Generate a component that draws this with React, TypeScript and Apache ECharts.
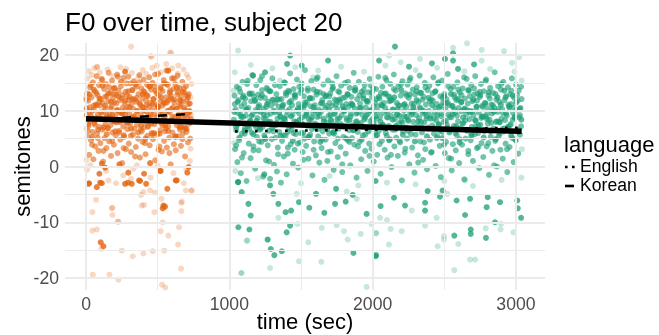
import React, { useEffect, useRef } from "react";
import * as echarts from "echarts";

// ---------- data ----------
const xTicks = [0, 1000, 2000, 3000];
const yTicks = [-20, -10, 0, 10, 20];
const xMinor = [500, 1500, 2500];
const yMinor = [-15, -5, 5, 15];

// orange (first block, 0-735 s)
const orangeMain: number[][] = [
[5,9.2],[8,13.1],[12,5.4],[15,11.8],[18,7.3],[22,2.1],[25,10.6],[28,14.2],[31,8.1],[35,4.7],[38,12.4],[41,9.9],[44,6.2],[48,15.1],[51,1.3],[54,10.2],[57,7.8],[61,13.5],[64,3.6],[67,11.1],[70,8.7],[74,16.2],[77,5.9],[80,12.8],[83,9.4],[87,2.8],[90,14.6],[93,7.1],[96,10.9],[100,4.2],[103,12.1],[106,8.5],[109,15.7],[113,6.6],[116,11.4],[119,0.9],[122,9.8],[126,13.9],[129,5.1],[132,10.4],[135,7.6],[139,14.8],[142,3.3],[145,12.6],[148,8.9],[152,6.9],[155,11.7],[158,16.8],[161,4.5],[165,9.6],[168,13.2],[171,7.4],[174,1.9],[178,10.8],[181,15.4],[184,6.1],[187,12.3],[191,8.2],[194,3.9],[197,11.5],[200,14.1],[204,9.1],[207,5.6],[210,12.9],[213,7.9],[217,16.5],[220,2.4],[223,10.1],[226,13.6],[230,6.4],[233,9.7],[236,11.9],[239,4.8],[243,14.4],[246,8.3],[249,12.2],[252,0.6],[256,10.5],[259,7.2],[262,15.9],[265,5.3],[269,11.3],[272,9.3],[275,13.4],[278,3.1],[282,8.6],[285,12.7],[288,6.7],[291,10.7],[295,16.1],[298,4.1],[301,9.5],[304,12.5],[308,7.7],[311,14.9],[314,2.6],[317,11.2],[321,8.8],[324,13.7],[327,5.7],[330,10.3],[334,15.3],[337,6.8],[340,12.0],[343,9.0],[347,3.5],[350,11.6],[353,14.3],[356,7.5],[360,10.0],[363,5.0],[366,13.0],[369,8.4],[373,16.4],[376,1.6],[379,11.0],[382,9.2],[386,14.0],[389,6.3],[392,12.3],[395,4.4],[399,10.6],[402,15.6],[405,7.0],[408,13.3],[412,8.0],[415,2.2],[418,11.8],[421,9.9],[425,14.7],[428,5.5],[431,12.6],[434,7.3],[438,10.8],[441,16.0],[444,3.8],[447,11.4],[451,8.7],[454,13.8],[457,6.0],[460,10.2],[464,15.0],[467,4.9],[470,12.1],[473,9.4],[477,7.6],[480,14.5],[483,1.1],[486,11.1],[490,8.1],[493,13.1],[496,5.8],[499,10.4],[503,16.6],[506,3.0],[509,12.8],[512,9.6],[516,6.5],[519,14.2],[522,11.7],[525,7.8],[529,2.7],[532,10.9],[535,13.5],[538,8.5],[542,15.5],[545,4.6],[548,11.3],[551,9.0],[555,6.9],[558,12.4],[561,17.2],[564,3.4],[568,10.0],[571,14.6],[574,7.2],[577,11.9],[581,5.2],[584,9.7],[587,13.6],[590,0.4],[594,12.2],[597,8.3],[600,15.8],[603,6.1],[607,10.6],[610,13.9],[613,4.0],[616,11.5],[620,8.9],[623,14.8],[626,2.9],[629,10.3],[633,7.4],[636,12.9],[639,16.3],[642,5.4],[646,9.3],[649,11.0],[652,14.1],[655,6.6],[659,10.8],[662,3.7],[665,12.5],[668,8.6],[672,15.2],[675,5.9],[678,11.6],[681,9.5],[685,13.3],[688,7.0],[691,1.8],[694,10.1],[698,14.4],[701,6.2],[704,12.0],[707,8.8],[711,4.3],[714,11.2],[717,13.0],[720,7.7],[724,9.8],[727,5.0]
];
const orangeCore: number[][] = [
[4,10.4],[14,7.6],[24,12.9],[34,9.0],[44,5.3],[54,13.8],[64,8.3],[74,11.0],[84,6.6],[94,12.2],[104,9.7],[114,14.5],[124,7.0],[134,10.9],[144,5.8],[154,13.1],[164,8.8],[174,11.6],[184,9.3],[194,14.0],[204,6.3],[214,10.1],[224,12.6],[234,8.0],[244,15.2],[254,9.5],[264,5.6],[274,11.8],[284,7.9],[294,13.5],[304,10.6],[314,6.8],[324,12.1],[334,8.6],[344,14.7],[354,9.9],[364,6.1],[374,11.4],[384,7.3],[394,13.0],[404,10.0],[414,5.0],[424,12.8],[434,9.1],[444,14.3],[454,7.7],[464,11.2],[474,6.0],[484,13.6],[494,8.9],[504,10.7],[514,5.9],[524,12.4],[534,9.4],[544,14.9],[554,7.4],[564,11.5],[574,6.4],[584,13.2],[594,10.3],[604,8.2],[614,12.0],[624,5.4],[634,14.1],[644,9.0],[654,11.9],[664,7.1],[674,13.4],[684,10.5],[694,6.8],[704,12.7],[714,9.6],[724,11.3],[730,8.0]
];
const orangeExtra: number[][] = [
[2,12.0],[12,6.4],[22,9.8],[32,14.6],[42,3.9],[52,10.9],[62,7.5],[72,13.2],[82,5.1],[92,11.6],[102,8.7],[112,15.5],[122,2.8],[132,12.5],[142,9.2],[152,6.9],[162,14.2],[172,10.4],[182,4.6],[192,13.0],[202,8.0],[212,11.3],[222,16.1],[232,6.1],[242,9.6],[252,12.8],[262,3.3],[272,10.1],[282,14.9],[292,7.8],[302,11.9],[312,5.5],[322,13.7],[332,9.0],[342,1.8],[352,12.3],[362,8.4],[372,15.1],[382,6.6],[392,10.6],[402,13.5],[412,4.2],[422,11.0],[432,7.1],[442,14.4],[452,9.4],[462,5.8],[472,12.1],[482,16.5],[492,8.2],[502,10.8],[512,3.6],[522,13.9],[532,7.4],[542,11.5],[552,6.3],[562,14.8],[572,9.9],[582,2.4],[592,12.7],[602,8.9],[612,15.8],[622,5.3],[632,10.3],[642,13.3],[652,7.0],[662,11.7],[672,4.9],[682,14.0],[692,9.1],[702,6.7],[712,12.4],[722,10.0],[732,8.5]
];
const orangeSolid: number[][] = [
[93,-1.3],[21,-3.0],[75,-3.7],[110,-3.0],[133,-0.2],[233,0.4],[295,-1.1],[272,-3.1],[319,-3.1],[377,-2.6],[405,-1.3],[419,-3.1],[447,0.6],[516,-0.8],[540,-7.0],[551,-7.2],[567,-4.0],[633,-2.5],[707,-1.1],[716,-0.1],[102,-13.6],[121,-14.3],[98,-2.9],[293,-2.9],[370,-2.5],[521,-0.8],[626,-2.5],[535,-7.5],[16,-3.1],[110,0.5],[272,17.0],[574,17.2]
];
const orangeFaint: number[][] = [
[44,-8.2],[70,-6.0],[184,-7.4],[184,-8.7],[226,-9.9],[44,-11.5],[75,-11.3],[107,-14.8],[249,-15.1],[326,-16.1],[400,-15.6],[465,-15.2],[546,-15.1],[47,-19.4],[163,-19.4],[226,-20.3],[530,-21.2],[553,-21.7],[521,-11.6],[535,-10.0],[574,-12.4],[649,-10.9],[642,-14.0],[663,-18.3],[665,-6.5],[665,-8.0],[682,-3.0],[735,-4.3],[696,-4.3],[384,-5.1],[388,-7.0],[405,-6.9],[477,-8.2],[526,-5.8],[400,-4.6],[447,-4.3],[481,-4.7],[314,-2.2],[209,-3.0],[156,-2.5],[354,0.2],[179,-7.5],[221,-9.9],[737,-4.3],[668,-6.3],
[314,21.5],[451,19.8],[593,20.4],[75,17.8],[493,18.1],[644,18.1],[703,16.5],[365,16.1],[621,15.7],[586,20.4],[458,19.7],[79,17.9],
[2,12.5],[3,6.8],[10,15.8],[20,17.1],[40,16.4],[58,17.6],[95,16.9],[150,17.4],[190,16.2],[240,17.8],[280,17.5],[320,16.8],[395,17.3],[420,16.6],[462,17.7],[520,16.9],[560,18.4],[600,17.6],[640,16.7],[680,17.4],[715,15.9],[730,12.4],[733,9.1],[729,3.2],[735,14.8],[3,1.2],[6,-0.6],[30,0.2],[140,-0.8],[260,-1.6],[330,-0.4],[450,-2.0],[500,0.1],[610,-1.2],[700,-0.5],[725,1.0]
];

// green (second block, 1030-3040 s)
const greenMain: number[][] = [
[1032,8.4],[1036,12.7],[1040,3.1],[1044,10.2],[1048,6.5],[1052,14.3],[1056,0.8],[1060,9.6],[1064,11.9],[1068,4.7],[1072,7.8],[1076,13.4],[1080,-1.2],[1084,10.8],[1088,5.9],[1092,15.2],[1096,8.9],[1100,2.4],[1104,11.3],[1108,6.8],[1112,12.2],[1116,9.1],[1120,-2.6],[1124,14.8],[1128,7.2],
[1132,10.5],[1136,4.1],[1140,13.1],[1144,8.2],[1148,1.5],[1152,11.7],[1156,6.1],[1160,16.4],[1164,9.4],[1168,3.6],[1172,12.5],[1176,7.5],[1180,-0.4],[1184,10.1],[1188,14.6],[1192,5.3],[1196,8.7],[1200,12.9],[1204,2.9],[1208,11.0],[1212,6.9],[1216,15.5],[1220,9.8],[1224,4.4],[1228,13.7],
[1232,7.1],[1236,-1.8],[1240,10.4],[1244,5.6],[1248,12.3],[1252,8.5],[1256,1.1],[1260,14.1],[1264,9.2],[1268,3.8],[1272,11.6],[1276,6.4],[1280,13.5],[1284,-2.2],[1288,8.0],[1292,10.9],[1296,4.9],[1300,15.8],[1304,7.4],[1308,12.0],[1312,0.3],[1316,9.7],[1320,11.4],[1324,5.2],[1328,13.0],
[1332,-0.9],[1336,8.6],[1340,2.2],[1344,10.7],[1348,6.2],[1352,14.4],[1356,9.0],[1360,-2.9],[1364,12.1],[1368,4.6],[1372,7.9],[1376,11.1],[1380,1.8],[1384,15.1],[1388,8.3],[1392,5.5],[1396,12.8],[1400,-1.4],[1404,9.9],[1408,3.4],[1412,13.6],[1416,7.0],[1420,10.3],[1424,16.7],[1428,4.0],
[1432,11.8],[1436,6.6],[1440,9.3],[1444,0.5],[1448,13.9],[1452,8.1],[1456,3.0],[1460,12.4],[1464,5.8],[1468,10.0],[1472,15.6],[1476,7.6],[1480,-0.2],[1484,11.2],[1488,9.5],[1492,4.3],[1496,13.2],[1500,6.0],[1504,14.9],[1508,8.8],[1512,2.6],[1516,10.6],[1520,12.6],[1524,5.0],[1528,17.3],
[1532,9.0],[1536,3.7],[1540,11.5],[1544,7.3],[1548,14.0],[1552,1.4],[1556,8.4],[1560,12.2],[1564,5.7],[1568,10.8],[1572,15.3],[1576,6.7],[1580,-1.6],[1584,9.6],[1588,13.8],[1592,4.5],[1596,11.0],[1600,7.7],[1604,2.0],[1608,12.9],[1612,8.9],[1616,16.0],[1620,5.4],[1624,10.2],[1628,0.7],
[1632,13.3],[1636,7.2],[1640,9.8],[1644,3.3],[1648,11.9],[1652,6.3],[1656,14.7],[1660,8.6],[1664,-2.4],[1668,10.5],[1672,4.8],[1676,12.7],[1680,7.9],[1684,1.0],[1688,15.4],[1692,9.1],[1696,5.9],[1700,11.4],[1704,13.1],[1708,2.7],[1712,8.2],[1716,10.9],[1720,6.1],[1724,14.2],[1728,-0.6],
[1732,9.4],[1736,12.0],[1740,4.2],[1744,7.6],[1748,16.2],[1752,10.3],[1756,1.7],[1760,13.5],[1764,6.8],[1768,8.7],[1772,11.6],[1776,3.5],[1780,14.5],[1784,9.2],[1788,-1.0],[1792,12.3],[1796,5.3],[1800,10.1],[1804,7.0],[1808,15.0],[1812,2.3],[1816,11.2],[1820,8.3],[1824,13.0],[1828,4.7],
[1832,10.7],[1836,6.5],[1840,14.1],[1844,0.2],[1848,9.0],[1852,12.5],[1856,5.1],[1860,11.0],[1864,7.4],[1868,16.8],[1872,3.9],[1876,10.4],[1880,13.7],[1884,8.0],[1888,-2.0],[1892,12.1],[1896,6.2],[1900,9.7],[1904,15.2],[1908,4.4],[1912,11.3],[1916,7.8],[1920,1.3],[1924,13.4],[1928,9.3],
[1932,5.6],[1936,12.8],[1940,8.4],[1944,14.6],[1948,2.8],[1952,10.6],[1956,6.9],[1960,11.8],[1964,-0.8],[1968,9.5],[1972,13.3],[1976,4.1],[1980,15.7],[1984,8.1],[1988,10.0],[1992,3.2],[1996,12.4],[2000,7.1],[2004,14.0],[2008,0.9],[2012,9.9],[2016,11.5],[2020,5.5],[2024,13.9],[2028,8.6],
[2032,2.1],[2036,10.8],[2040,16.1],[2044,6.4],[2048,12.2],[2052,8.9],[2056,-1.3],[2060,11.1],[2064,4.6],[2068,14.3],[2072,7.5],[2076,9.6],[2080,13.0],[2084,3.0],[2088,10.5],[2092,6.0],[2096,15.5],[2100,8.8],[2104,1.6],[2108,12.6],[2112,7.3],[2116,11.7],[2120,4.9],[2124,14.8],[2128,9.1],
[2132,-0.1],[2136,12.0],[2140,6.6],[2144,10.2],[2148,16.5],[2152,3.6],[2156,8.5],[2160,13.6],[2164,5.2],[2168,11.4],[2172,9.4],[2176,1.9],[2180,14.4],[2184,7.7],[2188,10.9],[2192,4.3],[2196,12.7],[2200,8.2],[2204,-2.5],[2208,15.3],[2212,6.3],[2216,11.0],[2220,9.0],[2224,2.5],[2228,13.1],
[2232,7.0],[2236,10.7],[2240,5.0],[2244,14.7],[2248,8.4],[2252,12.3],[2256,0.4],[2260,9.8],[2264,15.9],[2268,6.7],[2272,11.3],[2276,3.4],[2280,13.8],[2284,8.0],[2288,10.1],[2292,-1.1],[2296,12.9],[2300,5.7],[2304,9.2],[2308,14.2],[2312,7.2],[2316,2.0],[2320,11.6],[2324,8.7],[2328,16.3],
[2332,4.5],[2336,10.4],[2340,13.2],[2344,6.1],[2348,9.5],[2352,1.2],[2356,12.5],[2360,7.9],[2364,15.0],[2368,3.1],[2372,11.1],[2376,8.6],[2380,-0.5],[2384,13.7],[2388,6.8],[2392,10.0],[2396,14.5],[2400,4.8],[2404,9.1],[2408,12.0],[2412,2.6],[2416,7.4],[2420,11.8],[2424,16.0],[2428,5.9],
[2432,9.7],[2436,13.4],[2440,0.1],[2444,8.3],[2448,11.2],[2452,5.4],[2456,14.9],[2460,7.6],[2464,10.6],[2468,3.7],[2472,12.6],[2476,-1.9],[2480,9.0],[2484,15.4],[2488,6.2],[2492,11.5],[2496,8.0],[2500,13.0],[2504,2.4],[2508,10.3],[2512,4.4],[2516,12.1],[2520,7.0],[2524,16.6],[2528,9.3],
[2532,1.5],[2536,11.0],[2540,6.5],[2544,13.9],[2548,8.8],[2552,-0.7],[2556,10.8],[2560,4.0],[2564,14.3],[2568,7.3],[2572,12.4],[2576,9.6],[2580,2.9],[2584,11.9],[2588,5.6],[2592,15.1],[2596,8.1],[2600,10.5],[2604,0.6],[2608,13.3],[2612,6.9],[2616,9.9],[2620,12.8],[2624,3.9],[2628,14.0],
[2632,7.8],[2636,10.2],[2640,-2.3],[2644,12.2],[2648,5.0],[2652,9.4],[2656,15.7],[2660,6.4],[2664,11.3],[2668,2.2],[2672,13.6],[2676,8.5],[2680,10.0],[2684,4.7],[2688,14.6],[2692,7.1],[2696,11.7],[2700,1.0],[2704,9.2],[2708,12.9],[2712,5.8],[2716,16.2],[2720,8.2],[2724,10.7],[2728,3.3],
[2732,13.1],[2736,6.0],[2740,9.7],[2744,-0.3],[2748,12.5],[2752,7.5],[2756,14.8],[2760,4.2],[2764,10.9],[2768,8.9],[2772,1.7],[2776,13.5],[2780,6.6],[2784,11.4],[2788,9.0],[2792,15.6],[2796,3.6],[2800,10.4],[2804,7.7],[2808,12.7],[2812,-1.5],[2816,8.4],[2820,14.1],[2824,5.3],[2828,11.1],
[2832,9.5],[2836,2.8],[2840,13.2],[2844,6.8],[2848,10.6],[2852,16.9],[2856,4.6],[2860,8.0],[2864,12.0],[2868,0.0],[2872,9.8],[2876,14.4],[2880,5.5],[2884,11.6],[2888,7.9],[2892,3.0],[2896,13.8],[2900,8.6],[2904,10.3],[2908,1.4],[2912,15.2],[2916,6.3],[2920,11.9],[2924,8.3],[2928,4.1],
[2932,12.6],[2936,9.1],[2940,-1.0],[2944,14.2],[2948,6.9],[2952,10.8],[2956,3.5],[2960,13.0],[2964,7.6],[2968,11.2],[2972,15.8],[2976,5.1],[2980,9.6],[2984,0.8],[2988,12.3],[2992,8.7],[2996,4.8],[3000,14.7],[3004,10.1],[3008,6.5],[3012,11.8],[3016,2.3],[3020,13.6],[3024,8.8],[3028,5.7],[3032,10.5],[3036,7.2],[3040,12.1]
];
const greenCore: number[][] = [
[1035,9.8],[1047,7.1],[1058,11.6],[1070,5.2],[1083,8.9],[1095,12.4],[1107,6.4],[1119,10.3],[1131,7.7],[1143,13.0],[1155,9.1],[1167,5.8],[1179,11.9],[1191,8.2],[1203,10.7],[1215,6.6],[1227,12.8],[1239,9.4],[1251,4.9],[1263,11.2],[1275,8.0],[1287,13.5],[1299,6.9],[1311,10.0],[1323,7.4],[1335,12.1],[1347,9.7],[1359,5.5],[1371,10.9],[1383,8.6],[1395,13.2],[1407,6.2],[1419,11.5],[1431,9.0],[1443,4.6],[1455,12.7],[1467,7.9],[1479,10.4],[1491,8.4],[1503,13.8],[1515,6.0],[1527,11.0],[1539,9.3],[1551,5.3],[1563,12.3],[1575,8.8],[1587,10.6],[1599,7.0],[1611,13.4],[1623,9.6],[1635,4.4],[1647,11.4],[1659,8.1],[1671,12.6],[1683,6.7],[1695,10.2],[1707,9.2],[1719,13.9],[1731,5.9],[1743,11.1],[1755,8.5],[1767,12.0],[1779,7.2],[1791,10.8],[1803,9.9],[1815,5.0],[1827,12.9],[1839,8.3],[1851,11.3],[1863,6.5],[1875,13.6],[1887,9.5],[1899,7.6],[1911,10.5],[1923,4.8],[1935,12.2],[1947,8.7],[1959,11.7],[1971,6.3],[1983,10.1],[1995,13.3],[2007,7.8],[2019,9.0],[2031,5.6],[2043,12.5],[2055,8.0],[2067,10.9],[2079,6.8],[2091,13.1],[2103,9.8],[2115,4.7],[2127,11.8],[2139,8.4],[2151,12.4],[2163,7.3],[2175,10.3],[2187,9.1],[2199,13.7],[2211,5.7],[2223,11.2],[2235,8.9],[2247,6.4],[2259,12.9],[2271,9.3],[2283,10.6],[2295,4.5],[2307,11.9],[2319,8.1],[2331,13.2],[2343,7.0],[2355,10.0],[2367,9.6],[2379,5.4],[2391,12.3],[2403,8.6],[2415,11.0],[2427,6.9],[2439,13.5],[2451,9.2],[2463,7.5],[2475,10.8],[2487,5.1],[2499,12.6],[2511,8.2],[2523,11.4],[2535,6.1],[2547,13.0],[2559,9.4],[2571,10.2],[2583,7.2],[2595,12.1],[2607,4.3],[2619,11.6],[2631,8.8],[2643,10.4],[2655,6.6],[2667,13.7],[2679,9.7],[2691,5.8],[2703,12.0],[2715,8.3],[2727,10.7],[2739,7.4],[2751,12.8],[2763,9.0],[2775,5.2],[2787,11.3],[2799,8.5],[2811,13.3],[2823,6.3],[2835,10.1],[2847,9.8],[2859,4.9],[2871,12.4],[2883,8.0],[2895,11.1],[2907,6.7],[2919,13.6],[2931,9.5],[2943,7.1],[2955,10.6],[2967,5.5],[2979,12.7],[2991,8.9],[3003,11.5],[3015,6.2],[3027,10.3],[3038,8.4]
];
const greenExtra: number[][] = [
[1038,11.2],[1048,3.8],[1058,7.5],[1068,14.0],[1078,9.3],[1088,1.6],[1098,12.7],[1108,5.9],[1118,10.1],[1128,15.4],[1138,6.8],[1148,8.2],[1158,13.1],[1168,2.9],[1178,11.7],[1188,7.0],[1198,9.9],[1208,4.5],[1218,12.3],[1228,16.2],[1238,8.6],[1248,5.2],[1258,10.7],[1268,13.8],[1278,0.9],[1288,9.5],[1298,11.9],[1308,6.3],[1318,14.6],[1328,7.8],[1338,3.4],[1348,12.0],[1358,8.9],[1368,10.4],[1378,5.6],[1388,15.0],[1398,9.1],[1408,2.3],[1418,13.4],[1428,7.3],[1438,11.0],[1448,6.0],[1458,12.9],[1468,8.0],[1478,4.1],[1488,14.3],[1498,10.6],[1508,7.7],[1518,1.2],[1528,11.5],[1538,9.7],[1548,13.6],[1558,5.3],[1568,8.4],[1578,12.2],[1588,3.0],[1598,10.0],[1608,15.7],[1618,6.7],[1628,9.0],[1638,11.3],[1648,4.8],[1658,13.0],[1668,7.1],[1678,10.9],[1688,2.6],[1698,12.6],[1708,8.3],[1718,14.9],[1728,6.2],[1738,9.6],[1748,11.8],[1758,5.0],[1768,13.3],[1778,7.6],[1788,0.4],[1798,10.3],[1808,12.4],[1818,8.7],[1828,15.2],[1838,4.4],[1848,9.4],[1858,11.1],[1868,6.5],[1878,14.1],[1888,8.1],[1898,3.6],[1908,12.8],[1918,10.5],[1928,7.2],[1938,13.7],[1948,5.7],[1958,9.2],[1968,11.6],[1978,1.9],[1988,14.5],[1998,8.5],[2008,10.8],[2018,6.1],[2028,12.1],[2038,9.8],[2048,4.0],[2058,13.2],[2068,7.4],[2078,11.4],[2088,15.9],[2098,5.5],[2108,8.8],[2118,12.5],[2128,2.1],[2138,10.2],[2148,13.9],[2158,6.6],[2168,9.3],[2178,11.0],[2188,4.6],[2198,14.7],[2208,7.9],[2218,10.0],[2228,3.2],[2238,12.7],[2248,8.2],[2258,15.5],[2268,5.8],[2278,9.7],[2288,11.2],[2298,6.9],[2308,13.5],[2318,0.7],[2328,10.6],[2338,8.0],[2348,12.0],[2358,4.3],[2368,14.2],[2378,9.0],[2388,7.0],[2398,11.7],[2408,2.5],[2418,13.1],[2428,8.6],[2438,10.4],[2448,5.1],[2458,15.1],[2468,6.4],[2478,9.5],[2488,12.3],[2498,3.9],[2508,11.3],[2518,7.5],[2528,14.4],[2538,8.9],[2548,1.4],[2558,10.9],[2568,12.9],[2578,6.0],[2588,9.1],[2598,13.8],[2608,4.9],[2618,11.5],[2628,7.7],[2638,16.0],[2648,8.3],[2658,10.1],[2668,2.8],[2678,12.6],[2688,5.4],[2698,9.9],[2708,14.0],[2718,7.2],[2728,11.8],[2738,3.5],[2748,13.4],[2758,8.7],[2768,10.7],[2778,6.3],[2788,15.3],[2798,9.4],[2808,4.2],[2818,12.2],[2828,7.8],[2838,11.0],[2848,0.2],[2858,13.0],[2868,8.1],[2878,10.3],[2888,5.9],[2898,14.8],[2908,9.6],[2918,6.8],[2928,12.4],[2938,3.1],[2948,11.1],[2958,7.4],[2968,13.6],[2978,8.4],[2988,10.5],[2998,4.7],[3008,12.8],[3018,6.6],[3028,9.2],[3036,14.3]
];
const greenSolid: number[][] = [
[1063,-2.8],[1086,-4.6],[1133,-6.7],[1149,-8.8],[1140,-11.3],[1063,-10.9],[1244,-1.4],[1284,-3.4],[1307,-4.9],[1342,-6.7],[1393,-8.2],[1431,-7.9],[1486,-6.4],[1424,-10.6],[1400,-11.8],[1289,-14.8],[1314,-15.9],[1366,-15.2],[1268,-13.1],[1558,-7.4],[1605,-4.9],[1663,-8.3],[1745,-4.0],[1738,-6.7],[1866,-15.5],[1861,-5.1],[1812,-6.3],[1958,-8.5],[2024,-15.9],
[2021,-2.6],[2021,-16.1],[2056,-7.1],[2149,-5.6],[2226,-7.0],[2366,-7.9],[2384,-4.4],[2470,-5.4],[2570,-12.4],[2645,-8.7],[2680,-5.8],[2685,-11.3],[2685,-12.1],[2791,-12.8],[2796,-7.3],[2803,-5.5],[2854,-10.0],[2889,-6.4],[3013,-7.5],[3036,-9.2],[3010,-6.1],[2488,-4.3],[2366,-6.5],[2586,-6.1],[1059,-2.8],
[2156,21.5],[2561,20.3],[2561,19.0],[2045,19.0],[2254,17.9],[2414,18.5],[2505,19.3],[2596,17.5],[2708,18.3],[1424,19.9],[1403,18.4],[1505,18.1],[1689,19.0],[1249,16.9],[1166,16.3]
];
const greenFaint: number[][] = [
[1121,-13.3],[1086,-19.1],[1284,-18.2],[1265,-13.1],[1486,-17.0],[1642,-17.1],[1551,-13.6],[1470,-4.9],[1475,-10.3],[1342,-9.2],[1645,-11.0],[1749,-10.5],[1800,-11.6],[1826,-13.1],[1917,-12.1],[1819,-4.5],[1889,-5.8],[2024,-11.9],[1958,-21.6],[1993,-10.3],[1082,-19.1],[1126,-13.3],
[2052,-9.2],[2100,-9.6],[2126,-11.2],[2203,-11.6],[2024,-12.0],[2114,-14.0],[2273,-7.9],[2366,-10.6],[2447,-9.2],[2454,-14.3],[2498,-12.5],[2498,-13.1],[2570,-18.6],[2598,-13.9],[2680,-16.7],[2715,-16.7],[2789,-11.1],[2893,-11.3],[2896,-10.3],[2982,-11.8],[2645,-2.5],[2521,-4.9],
[2659,22.1],[2561,21.3],[2761,20.9],[2917,20.7],[2115,19.9],[2196,18.7],[2331,19.3],[2761,19.0],[2973,18.6],[3022,19.6],[1061,20.8],[1354,15.4],[1584,16.0],
[1030,13.6],[1034,4.2],[1038,16.9],[1042,-0.8],[1150,18.2],[1300,17.6],[1460,17.8],[1620,17.2],[1780,17.9],[1940,17.0],[2090,18.1],[2300,17.3],[2450,17.7],[2640,17.1],[2820,17.5],[2990,17.0],[3040,15.4],[3042,3.1],[3038,-2.0],[1200,-2.1],[1500,-3.0],[1700,-1.7],[1900,-3.4],[2100,-2.9],[2300,-3.2],[2500,-2.6],[2700,-3.5],[2900,-2.4]
];

// fitted lines
const overallFit: number[][] = [[0, 8.55], [3040, 6.3]];
const koreanFit: number[][] = [[0, 8.35], [735, 9.45]];
const englishFit: number[][] = [[1040, 6.3], [3030, 6.95]];

const ORANGE = "#E2640F";
const GREEN = "#1B9E77";

export default function App() {
  const ref = useRef<HTMLDivElement>(null);
  useEffect(() => {
    if (!ref.current) return;
    const chart = echarts.init(ref.current, undefined, { renderer: "svg" });
    const font = "Liberation Sans, Arial, Helvetica, sans-serif";
    const scatter = (data: number[][], color: string, opacity: number, z: number) => ({
      type: "scatter",
      data,
      symbolSize: 6,
      z,
      silent: true,
      itemStyle: { color, opacity },
    });
    const gridLines = (xs: number[], ys: number[], width: number) => ({
      type: "line",
      data: [],
      silent: true,
      z: 0,
      markLine: {
        silent: true,
        symbol: "none",
        animation: false,
        label: { show: false },
        lineStyle: { color: "#EBEBEB", width, type: "solid" },
        data: [...xs.map((v) => ({ xAxis: v })), ...ys.map((v) => ({ yAxis: v }))],
      },
    });
    const fit = (data: number[][], width: number, dash: any, cap: string) => ({
      type: "line",
      data,
      symbol: "none",
      silent: true,
      z: 5,
      lineStyle: { color: "#000", width, type: dash, cap },
    });
    chart.setOption({
      animation: false,
      textStyle: { fontFamily: font },
      title: {
        text: "F0 over time, subject 20",
        left: 60,
        top: 4,
        textStyle: { fontSize: 26, fontWeight: "normal", color: "#000", fontFamily: font },
      },
      grid: { left: 65, right: 114, top: 43, bottom: 45, outerBoundsMode: "none", containLabel: false },
      xAxis: {
        type: "value",
        min: -147,
        max: 3203,
        name: "time (sec)",
        nameLocation: "middle",
        nameGap: 20,
        nameMoveOverlap: false,
        nameTextStyle: { fontSize: 22, color: "#000", fontFamily: font },
        axisLine: { show: false },
        axisTick: { show: false },
        splitLine: { show: false },
        axisLabel: {
          customValues: xTicks,
          fontSize: 17.6,
          color: "#4D4D4D",
          margin: 5,
          fontFamily: font,
          formatter: (v: number) => String(v),
        },
      },
      yAxis: {
        type: "value",
        min: -22.15,
        max: 22.15,
        name: "semitones",
        nameLocation: "middle",
        nameGap: 32,
        nameMoveOverlap: false,
        nameTextStyle: { fontSize: 22, color: "#000", fontFamily: font },
        axisLine: { show: false },
        axisTick: { show: false },
        splitLine: { show: false },
        axisLabel: {
          customValues: yTicks,
          fontSize: 17.6,
          color: "#4D4D4D",
          margin: 6,
          fontFamily: font,
          formatter: (v: number) => String(v),
        },
      },
      series: [
        gridLines(xMinor, yMinor, 1),
        gridLines(xTicks, yTicks, 2),
        scatter(orangeFaint, ORANGE, 0.25, 2),
        scatter(greenFaint, GREEN, 0.25, 2),
        scatter(orangeMain, ORANGE, 0.6, 3),
        scatter(greenMain, GREEN, 0.62, 3),
        scatter(orangeExtra, ORANGE, 0.6, 3),
        scatter(greenExtra, GREEN, 0.62, 3),
        scatter(orangeCore, ORANGE, 0.7, 3),
        scatter(greenCore, GREEN, 0.72, 3),
        scatter(orangeSolid, ORANGE, 0.8, 3),
        scatter(greenSolid, GREEN, 0.75, 3),
        fit(koreanFit, 2.6, [9, 9], "butt"),
        fit(englishFit, 2.6, [2.6, 7.4], "butt"),
        fit(overallFit, 5.5, "solid", "butt"),
      ],
      graphic: [
        { type: "text", left: 564, top: 133, style: { text: "language", fontSize: 22, fill: "#000", fontFamily: font } },
        { type: "line", shape: { x1: 565, y1: 167, x2: 575, y2: 167 }, style: { stroke: "#000", lineWidth: 2.6, lineDash: [2.6, 4.4] } },
        { type: "text", left: 580, top: 157, style: { text: "English", fontSize: 17.6, fill: "#000", fontFamily: font } },
        { type: "line", shape: { x1: 565, y1: 186, x2: 574, y2: 186 }, style: { stroke: "#000", lineWidth: 2.6 } },
        { type: "text", left: 580, top: 176, style: { text: "Korean", fontSize: 17.6, fill: "#000", fontFamily: font } },
      ],
    });
    return () => chart.dispose();
  }, []);
  return <div ref={ref} style={{ position: "fixed", left: 0, top: 0, width: 659, height: 335 }} />;
}
